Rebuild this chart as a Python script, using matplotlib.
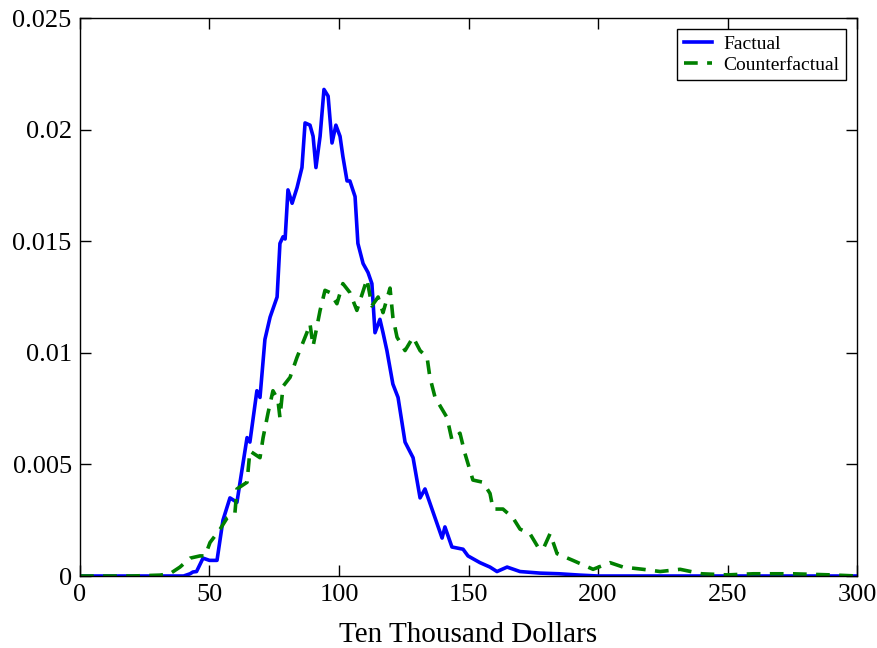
"""Factual vs counterfactual density, ten-thousand-dollar bins."""

import matplotlib

matplotlib.use("Agg")
import matplotlib.pyplot as plt

factual_x = [0, 20, 40, 42.5, 43.6, 45, 47.5, 50, 52.9, 55.2, 57.9, 60.6, 61.8, 64.5, 65.6,
             68.3, 69.5, 71.4, 73.4, 76.1, 77.2, 78.4, 79.2, 80.3, 81.9, 83.8, 85.7, 86.9,
             88.8, 90.0, 91.1, 92.7, 94.2, 95.8, 97.3, 98.8, 100.4, 101.5, 103.1, 104.2,
             106.2, 107.3, 109.3, 111.2, 112.7, 113.9, 115.8, 117.0, 118.5, 120.8, 122.8,
             125.5, 128.6, 131.3, 133.2, 135.9, 139.8, 140.9, 143.6, 147.9, 149.8, 154.4,
             158.3, 161.0, 164.9, 169.9, 177.6, 185, 193, 200, 250, 300]
factual_y = [0, 0, 0, 0.0001, 0.00018, 0.0002, 0.0008, 0.0007, 0.0007, 0.0025, 0.0035,
             0.0033, 0.0042, 0.0062, 0.0060, 0.0083, 0.0080, 0.0106, 0.0116, 0.0125, 0.0149,
             0.0152, 0.0151, 0.0173, 0.0167, 0.0174, 0.0183, 0.0203, 0.0202, 0.0197, 0.0183,
             0.0197, 0.0218, 0.0215, 0.0194, 0.0202, 0.0197, 0.0188, 0.0177, 0.0177, 0.0170,
             0.0149, 0.0140, 0.0136, 0.0131, 0.0109, 0.0115, 0.0109, 0.0101, 0.0086, 0.0080,
             0.0060, 0.0053, 0.0035, 0.0039, 0.0030, 0.0017, 0.0022, 0.0013, 0.0012, 0.0009,
             0.0006, 0.0004, 0.0002, 0.0004, 0.0002, 0.00013, 0.0001, 0.00004, 0, 0, 0]

counter_x = [0, 20, 30.9, 34.7, 38.6, 42.5, 46.3, 48.3, 50.2, 54.1, 56.8, 59.8, 60.6, 64.5,
             65.6, 69.5, 70.7, 72.6, 74.5, 76.4, 77.2, 78.4, 81.1, 83.8, 87.6, 88.8, 90.0,
             92.7, 94.6, 96.5, 99.2, 101.5, 104.2, 106.9, 110.8, 112.7, 115.1, 117.0, 119.7,
             120.8, 122.4, 125.5, 128.6, 131.3, 134.0, 135.1, 137.1, 141.7, 143.6, 146.7,
             148.6, 151.7, 155.6, 158.3, 159.5, 163.3, 167.2, 169.9, 173.7, 176.8, 178.8,
             181.5, 184.2, 190.3, 198.1, 204.6, 209.7, 217.4, 224, 231.7, 240, 250, 260,
             275, 290, 300]
counter_y = [0, 0, 0.00004, 0.0001, 0.0004, 0.0008, 0.0009, 0.0009, 0.0015, 0.0021, 0.0026,
             0.0028, 0.0039, 0.0042, 0.0056, 0.0053, 0.0062, 0.0073, 0.0083, 0.0079, 0.0071,
             0.0085, 0.0089, 0.0098, 0.0109, 0.0113, 0.0103, 0.0119, 0.0128, 0.0127, 0.0122,
             0.0131, 0.0127, 0.0119, 0.0133, 0.0121, 0.0125, 0.0118, 0.0129, 0.0116, 0.0107,
             0.0101, 0.0107, 0.0101, 0.0098, 0.0089, 0.0080, 0.0071, 0.0061, 0.0064, 0.0055,
             0.0043, 0.0042, 0.0037, 0.0030, 0.0030, 0.0026, 0.0021, 0.0019, 0.0013, 0.0012,
             0.0019, 0.0010, 0.0007, 0.0003, 0.0006, 0.0004, 0.0003, 0.0002, 0.0003, 0.0001,
             0.00005, 0.0001, 0.0001, 0.00005, 0]

x_ticks = [0, 50, 100, 150, 200, 250, 300]
y_ticks = [0, 0.005, 0.01, 0.015, 0.02, 0.025]
y_tick_labels = ["0", "0.005", "0.01", "0.015", "0.02", "0.025"]


def main() -> None:
    plt.rcParams.update(
        {
            "font.family": "serif",
            "font.serif": ["Liberation Serif", "DejaVu Serif"],
            "mathtext.fontset": "stix",
        }
    )
    fig = plt.figure(figsize=(8.78, 6.48), dpi=100)
    ax = fig.add_axes([0.0911, 0.1111, 0.885, 0.8611])

    ax.plot(factual_x, factual_y, color="#0000FF", lw=2.6, label="Factual")
    ax.plot(counter_x, counter_y, color="#008000", lw=2.6, ls=(0, (3.8, 2.6)),
            label="Counterfactual")

    ax.set_xlim(0, 300)
    ax.set_ylim(0, 0.025)
    ax.set_xticks(x_ticks)
    ax.set_yticks(y_ticks, y_tick_labels)
    ax.tick_params(direction="in", length=8, width=1, top=True, right=True,
                   labelsize=19, pad=6)
    for spine in ax.spines.values():
        spine.set_linewidth(1.0)
    ax.set_xlabel("Ten Thousand Dollars", fontsize=21, labelpad=11)

    leg = ax.legend(loc="upper right", fontsize=14, handlelength=1.45,
                    borderaxespad=0.55, borderpad=0.35, labelspacing=0.15,
                    handletextpad=0.6, fancybox=False, framealpha=1)
    leg.get_frame().set_edgecolor("black")
    leg.get_frame().set_linewidth(1.0)

    fig.savefig("out.png", dpi=100)
    plt.close(fig)


if __name__ == "__main__":
    main()
